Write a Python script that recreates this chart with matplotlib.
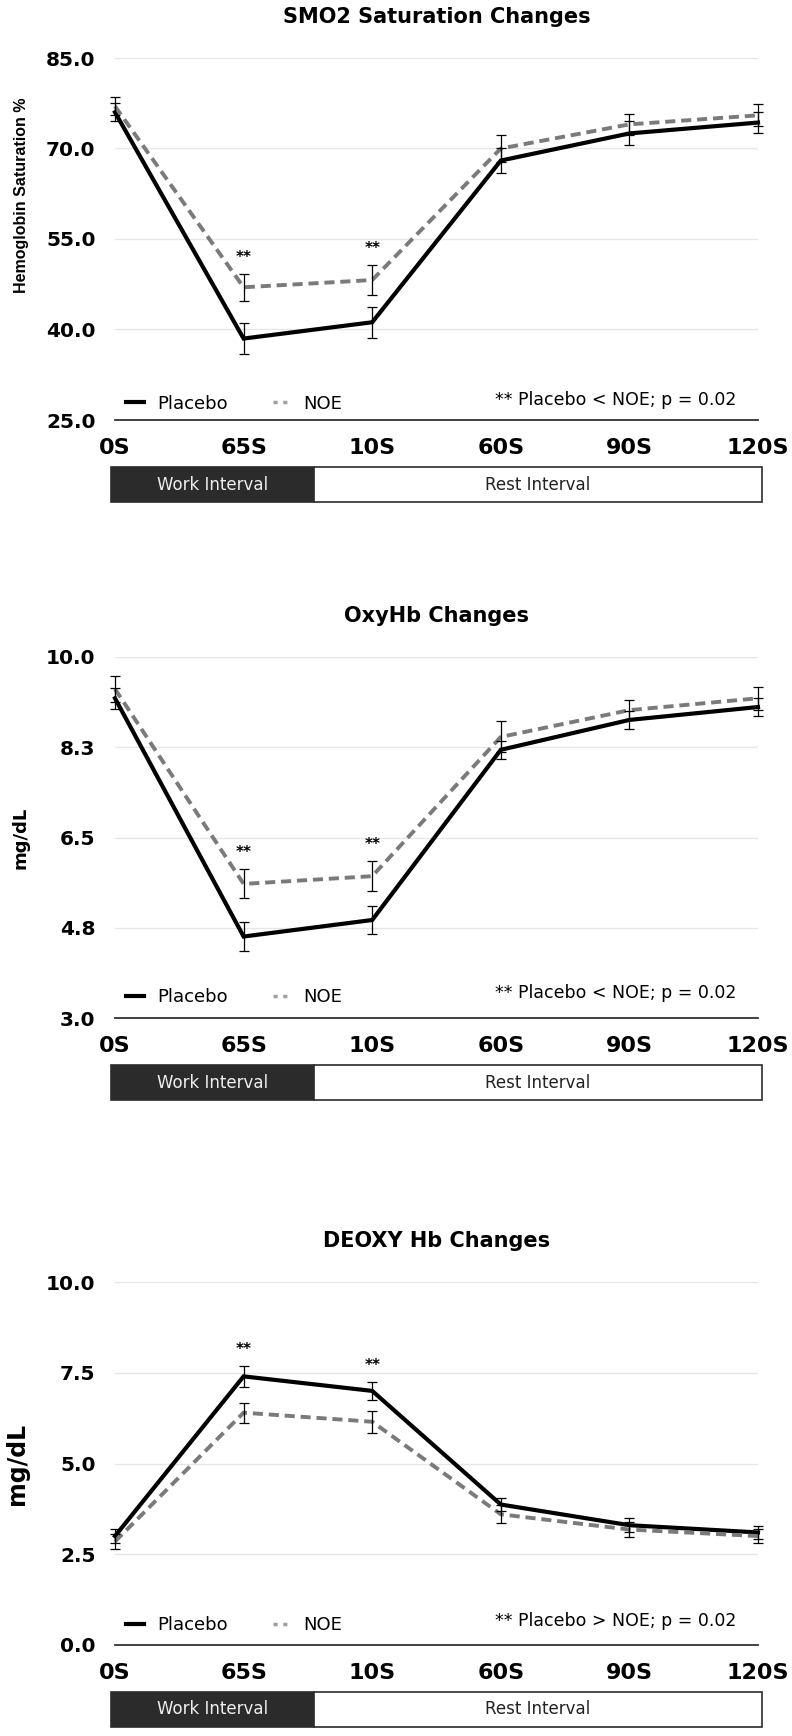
import numpy as np
import matplotlib.pyplot as plt
from matplotlib.lines import Line2D

# time points on the x axis
time_labels = ['0S', '65S', '10S', '60S', '90S', '120S']

# SMO2 saturation (%)
smo2_placebo = [76.0, 38.5, 41.2, 68.0, 72.5, 74.3]
smo2_placebo_err = [1.5, 2.5, 2.6, 2.0, 2.0, 1.8]
smo2_noe = [77.0, 47.0, 48.2, 70.0, 74.0, 75.5]
smo2_noe_err = [1.5, 2.2, 2.5, 2.2, 1.8, 1.8]
smo2_ticks = [25.0, 40.0, 55.0, 70.0, 85.0]
smo2_ticklabels = ['25.0', '40.0', '55.0', '70.0', '85.0']

# OxyHb (mg/dL)
oxy_placebo = [9.2, 4.58, 4.9, 8.2, 8.78, 9.03]
oxy_placebo_err = [0.2, 0.29, 0.27, 0.18, 0.18, 0.17]
oxy_noe = [9.38, 5.6, 5.75, 8.45, 8.97, 9.2]
oxy_noe_err = [0.25, 0.28, 0.29, 0.3, 0.2, 0.22]
oxy_ticks = [3.0, 4.75, 6.5, 8.25, 10.0]
oxy_ticklabels = ['3.0', '4.8', '6.5', '8.3', '10.0']

# DeoxyHb (mg/dL)
deoxy_placebo = [3.0, 7.4, 7.0, 3.87, 3.3, 3.1]
deoxy_placebo_err = [0.2, 0.28, 0.25, 0.18, 0.2, 0.18]
deoxy_noe = [2.85, 6.4, 6.15, 3.6, 3.18, 3.0]
deoxy_noe_err = [0.2, 0.28, 0.3, 0.25, 0.2, 0.2]
deoxy_ticks = [0.0, 2.5, 5.0, 7.5, 10.0]
deoxy_ticklabels = ['0.0', '2.5', '5.0', '7.5', '10.0']

# significant time points (index into time_labels)
sig_points = [1, 2]

# work / rest band under each chart
interval_names = ['Work Interval', 'Rest Interval']
interval_edges = [-0.03, 1.55, 5.03]

panels = [
    dict(title='SMO2 Saturation Changes', ylabel='Hemoglobin Saturation %',
         placebo=smo2_placebo, placebo_err=smo2_placebo_err,
         noe=smo2_noe, noe_err=smo2_noe_err,
         ticks=smo2_ticks, ticklabels=smo2_ticklabels,
         note='** Placebo < NOE; p = 0.02',
         top=58, bottom=420, ylab_font=('Liberation Sans', 11.5), ylab_y=0.62, leg_y=0.045),
    dict(title='OxyHb Changes', ylabel='mg/dL',
         placebo=oxy_placebo, placebo_err=oxy_placebo_err,
         noe=oxy_noe, noe_err=oxy_noe_err,
         ticks=oxy_ticks, ticklabels=oxy_ticklabels,
         note='** Placebo < NOE; p = 0.02',
         top=657, bottom=1018, ylab_font=('DejaVu Sans', 13), ylab_y=0.5, leg_y=0.058),
    dict(title='DEOXY Hb Changes', ylabel='mg/dL',
         placebo=deoxy_placebo, placebo_err=deoxy_placebo_err,
         noe=deoxy_noe, noe_err=deoxy_noe_err,
         ticks=deoxy_ticks, ticklabels=deoxy_ticklabels,
         note='** Placebo > NOE; p = 0.02',
         top=1282, bottom=1645, ylab_font=('DejaVu Sans', 17), ylab_y=0.5, leg_y=0.055),
]

W, H = 792, 1736
left_px, right_px = 115, 758
NOE_GRAY = '#7a7a7a'

fig = plt.figure(figsize=(W / 100, H / 100), dpi=100)
x = np.arange(len(time_labels))

for p in panels:
    ax = fig.add_axes([left_px / W, 1 - p['bottom'] / H,
                       (right_px - left_px) / W, (p['bottom'] - p['top']) / H])

    # lines
    ax.plot(x, p['placebo'], color='black', lw=3, zorder=3, clip_on=False,
            solid_joinstyle='miter')
    ax.plot(x, p['noe'], color=NOE_GRAY, lw=2.8, ls=(0, (2.6, 1.5)), zorder=3,
            clip_on=False)

    # error bars (both drawn in black)
    for vals, errs in [(p['placebo'], p['placebo_err']), (p['noe'], p['noe_err'])]:
        eb = ax.errorbar(x, vals, yerr=errs, fmt='none', ecolor='black',
                         elinewidth=0.9, capsize=3.5, capthick=0.9, zorder=4)
        for artist in eb.lines[1] + eb.lines[2]:
            artist.set_clip_on(False)

    # significance stars
    for i in sig_points:
        top_val = max(p['placebo'][i] + p['placebo_err'][i], p['noe'][i] + p['noe_err'][i])
        ax.annotate('**', (x[i], top_val), xytext=(0, 12), textcoords='offset points',
                    ha='center', va='center', fontsize=11, fontweight='bold')

    ax.set_xlim(0, len(time_labels) - 1)
    ax.set_ylim(p['ticks'][0], p['ticks'][-1])
    ax.set_xticks(x)
    ax.set_xticklabels(time_labels, fontsize=16, fontweight='bold')
    ax.set_yticks(p['ticks'])
    ax.set_yticklabels(p['ticklabels'], fontsize=14.5, fontweight='bold')
    ax.tick_params(axis='both', length=0)
    ax.tick_params(axis='x', pad=13)
    ax.tick_params(axis='y', pad=14)

    ax.grid(axis='y', color='#e6e6e6', lw=1.0)
    ax.set_axisbelow(True)
    for s in ['top', 'right', 'left']:
        ax.spines[s].set_visible(False)
    ax.spines['bottom'].set_color('#333333')
    ax.spines['bottom'].set_linewidth(1.3)
    ax.spines['bottom'].set_zorder(5)

    ax.set_title(p['title'], fontsize=15, fontweight='bold', pad=25)
    fam, size = p['ylab_font']
    ax.set_ylabel(p['ylabel'], fontsize=size, fontweight='bold', family=fam)
    ax.yaxis.set_label_coords(-0.133, p['ylab_y'])

    # legend + note
    handles = [Line2D([], [], color='black', lw=3),
               Line2D([], [], color='#a0a0a0', lw=2.5, ls=(0, (1.2, 1.6)))]
    ax.legend(handles, ['Placebo', 'NOE'], loc='center left',
              bbox_to_anchor=(0.012, p['leg_y']), ncol=2, frameon=False,
              fontsize=13, handlelength=1.0, handletextpad=0.7,
              columnspacing=2.5, borderaxespad=0, borderpad=0.2)
    ax.text(0.967, p['leg_y'] + 0.01, p['note'], transform=ax.transAxes,
            ha='right', va='center', fontsize=12.5)

    # work / rest band below the x labels
    box = fig.add_axes([left_px / W, 1 - (p['bottom'] + 82) / H,
                        (right_px - left_px) / W, 35 / H])
    box.set_xlim(ax.get_xlim())
    box.set_ylim(0, 1)
    box.axis('off')
    starts = interval_edges[:-1]
    widths = np.diff(interval_edges)
    box.barh(0.5, widths, left=starts, height=1.0,
             color=['#2b2b2b', 'white'], edgecolor='#2b2b2b', lw=1.2, clip_on=False)
    for name, s, w, c in zip(interval_names, starts, widths, ['#eeeeee', '#222222']):
        box.text(s + w / 2, 0.5, name, ha='center', va='center', fontsize=12, color=c)

fig.savefig('out.png', dpi=100)
